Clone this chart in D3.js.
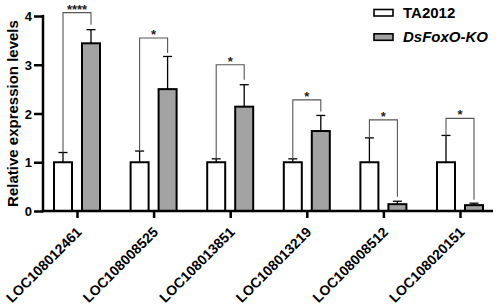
<!DOCTYPE html>
<html><head><meta charset="utf-8">
<script src="https://cdn.jsdelivr.net/npm/d3@7/dist/d3.min.js"></script>
<style>
body{margin:0;background:#fff;}
text{font-family:Arial,"Liberation Sans",sans-serif;font-weight:bold;}
</style></head>
<body><svg id="c" width="498" height="307"></svg>
<script>
const categories = ["LOC108012461","LOC108008525","LOC108013851","LOC108013219","LOC108008512","LOC108020151"];
const seriesNames = ["TA2012","DsFoxO-KO"];
const ctrlMean = [1.0, 1.0, 1.0, 1.0, 1.0, 1.0];
const ctrlErr  = [0.2, 0.23, 0.07, 0.07, 0.5, 0.55];
const koMean   = [3.44, 2.5, 2.14, 1.64, 0.14, 0.12];
const koErr    = [0.28, 0.67, 0.45, 0.32, 0.06, 0.04];
const sigLabels = ["****","*","*","*","*","*"];
const bracketTop = [4.07, 3.55, 3.0, 2.28, 1.87, 1.9];
const bracketRightBottom = [3.82, 3.24, 2.69, 2.04, 0.29, 0.23];
const yTicks = [0,1,2,3,4];

const FONT = "Arial, 'Liberation Sans', sans-serif";
const svg = d3.select("#c");
const y = d3.scaleLinear().domain([0,4]).range([211,16]);
const x = d3.scalePoint().domain(categories).range([77,460]);
const off = 14, bw = 18;
const greyFill = "#a3a3a3";

// bars
const g = svg.append("g");
categories.forEach((c,i)=>{
  const cx = x(c);
  [[cx-off, ctrlMean[i], ctrlErr[i]],[cx+off, koMean[i], koErr[i]]].forEach(([bx,m,e])=>{
    g.append("line").attr("x1",bx).attr("x2",bx).attr("y1",y(m)).attr("y2",y(m+e)).attr("stroke","#000").attr("stroke-width",1.3);
    g.append("line").attr("x1",bx-4.5).attr("x2",bx+4.5).attr("y1",y(m+e)).attr("y2",y(m+e)).attr("stroke","#000").attr("stroke-width",1.3);
  });
});
g.selectAll("rect.c").data(categories).join("rect")
  .attr("x",d=>x(d)-off-bw/2).attr("width",bw)
  .attr("y",(d,i)=>y(ctrlMean[i])).attr("height",(d,i)=>y(0)-y(ctrlMean[i]))
  .attr("fill","#fff").attr("stroke","#000").attr("stroke-width",2);
g.selectAll("rect.k").data(categories).join("rect")
  .attr("x",d=>x(d)+off-bw/2).attr("width",bw)
  .attr("y",(d,i)=>y(koMean[i])).attr("height",(d,i)=>y(0)-y(koMean[i]))
  .attr("fill",greyFill).attr("stroke","#000").attr("stroke-width",2);

// significance brackets
categories.forEach((c,i)=>{
  const lx = x(c)-off, rx = x(c)+off;
  const path = d3.path();
  path.moveTo(lx, y(ctrlMean[i]+ctrlErr[i]));
  path.lineTo(lx, y(bracketTop[i]));
  path.lineTo(rx, y(bracketTop[i]));
  path.lineTo(rx, y(bracketRightBottom[i]));
  svg.append("path").attr("d",path.toString()).attr("fill","none").attr("stroke","#555").attr("stroke-width",1.1);
  svg.append("text").attr("x",(lx+rx)/2).attr("y",y(bracketTop[i])+1).attr("text-anchor","middle")
    .attr("font-size",13).attr("fill","#222").text(sigLabels[i]);
});

// y axis
const ya = svg.append("g").attr("transform","translate(43,0)")
  .call(d3.axisLeft(y).tickValues(yTicks).tickFormat(d3.format("d")).tickSize(9).tickPadding(2));
ya.select(".domain").remove();
ya.selectAll(".tick line").attr("stroke","#000").attr("stroke-width",2.5);
ya.selectAll(".tick text").attr("font-size",13).attr("fill","#000").attr("font-family",FONT).attr("font-weight","bold").attr("dy","0.36em");
svg.append("line").attr("x1",43).attr("x2",43).attr("y1",y(4)-1.2).attr("y2",y(0)+1.2).attr("stroke","#000").attr("stroke-width",2.5);

// x axis
const xa = svg.append("g").attr("transform",`translate(0,${y(0)})`)
  .call(d3.axisBottom(x).tickSize(7).tickSizeOuter(0));
xa.select(".domain").remove();
xa.selectAll(".tick line").attr("stroke","#000").attr("stroke-width",2.5);
xa.selectAll(".tick text").attr("font-size",14).attr("fill","#000")
  .attr("font-family",FONT).attr("font-weight","bold")
  .attr("text-anchor","end").attr("y",0).attr("dy",0)
  .attr("transform","translate(5,22) rotate(-45)");
svg.append("line").attr("x1",42).attr("x2",493).attr("y1",y(0)).attr("y2",y(0)).attr("stroke","#000").attr("stroke-width",2.5);

// y label
svg.append("text").attr("transform",`translate(18,${(y(0)+y(4))/2}) rotate(-90)`)
  .attr("text-anchor","middle").attr("font-size",15).attr("fill","#000").text("Relative expression levels");

// legend
const lg = svg.append("g");
[["#fff",0],[greyFill,1]].forEach(([f,i])=>{
  lg.append("rect").attr("x",374).attr("y",9.5+i*24.3).attr("width",19).attr("height",6.5)
    .attr("fill",f).attr("stroke","#000").attr("stroke-width",1.6);
});
lg.append("text").attr("x",403).attr("y",17.5).attr("font-size",15).attr("fill","#000").text(seriesNames[0]);
lg.append("text").attr("x",403).attr("y",41.8).attr("font-size",15).attr("fill","#000").attr("font-style","italic").text(seriesNames[1]);
</script></body></html>
